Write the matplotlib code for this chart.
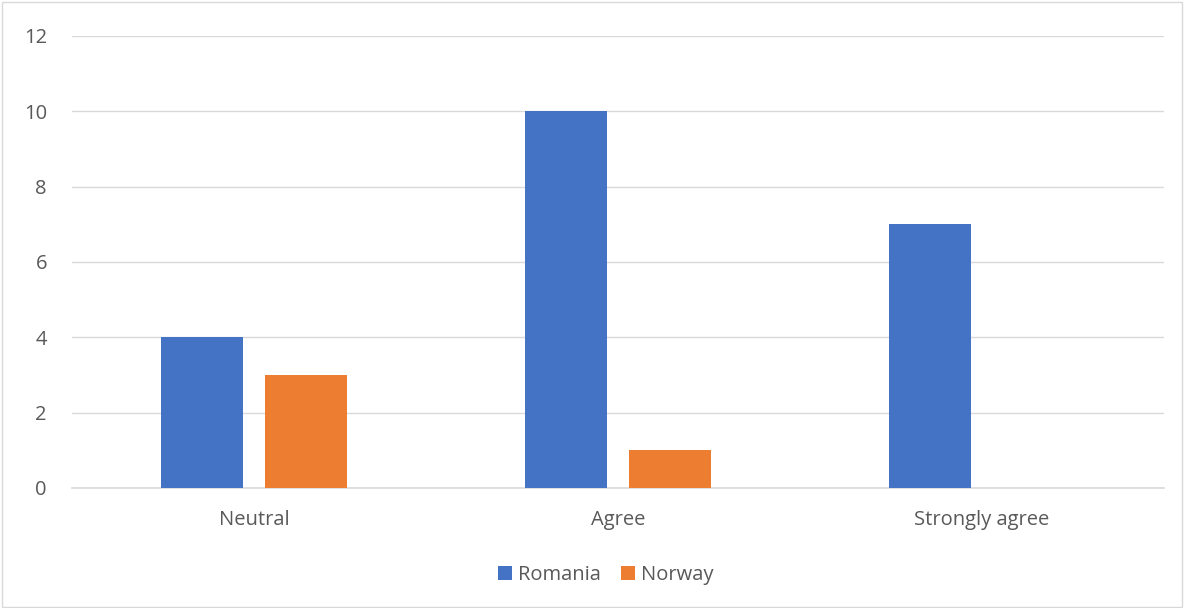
import numpy as np
import matplotlib.pyplot as plt
from matplotlib.patches import Rectangle

plt.rcParams['font.family'] = ['Open Sans', 'DejaVu Sans']

categories = ["Neutral", "Agree", "Strongly agree"]
romania = [4, 10, 7]
norway = [3, 1, 0]
series_names = ["Romania", "Norway"]
colors = ["#4472C4", "#ED7D31"]

fig = plt.figure(figsize=(11.84, 6.08), dpi=100)
ax = fig.add_axes([0.0608, 0.1974, 0.9222, 0.7434])

x = np.arange(len(categories))
w = 0.225
off = 0.143
ax.bar(x - off, romania, w, color=colors[0], label=series_names[0], zorder=3)
ax.bar(x + off, norway, w, color=colors[1], label=series_names[1], zorder=3)

ax.set_xlim(-0.5, 2.5)
ax.set_ylim(0, 12)
ax.set_yticks(range(0, 13, 2))
ax.grid(axis="y", color="#D9D9D9", linewidth=1, zorder=0)
ax.set_xticks(x)
ax.set_xticklabels(categories)
for s in ax.spines.values():
    s.set_visible(False)
ax.tick_params(length=0, labelsize=14.5, colors="#595959")
ax.tick_params(axis="x", pad=16)
ax.tick_params(axis="y", pad=18)
ax.axhline(0, color="#D9D9D9", linewidth=1.2, zorder=2, clip_on=False)

ax.legend(loc="upper center", bbox_to_anchor=(0.489, -0.13), ncol=2, frameon=False,
          fontsize=14.5, labelcolor="#595959", handlelength=0.7, handleheight=0.7,
          handletextpad=0.3, columnspacing=1.0)

fig.patches.append(Rectangle((0.002, 0.002), 0.996, 0.994, transform=fig.transFigure,
                             fill=False, edgecolor="#D9D9D9", linewidth=1))

fig.savefig("out.png", dpi=100)
